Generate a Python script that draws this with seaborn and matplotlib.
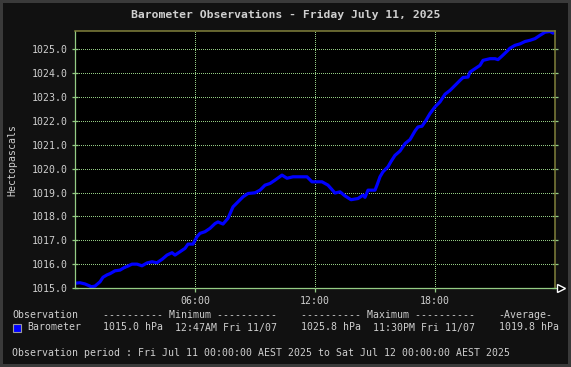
import matplotlib
matplotlib.use("Agg")
import matplotlib.pyplot as plt
import matplotlib.transforms as mtransforms
from matplotlib.patches import Rectangle
import seaborn as sns
import pandas as pd

# ---------------- data ----------------
hours = [0.0, 0.25, 0.5, 0.75, 0.8, 1.0, 1.25, 1.4, 1.6, 1.75, 2.0, 2.25, 2.45, 2.65,
         2.85, 3.1, 3.35, 3.6, 3.85, 4.1, 4.35, 4.6, 4.85, 5.0, 5.25, 5.5, 5.65, 5.9,
         6.1, 6.25, 6.5, 6.75, 7.0, 7.15, 7.4, 7.65, 7.9, 8.15, 8.4, 8.65, 9.0, 9.25,
         9.5, 9.75, 10.0, 10.35, 10.6, 10.9, 11.25, 11.6, 11.85, 12.1, 12.35, 12.65,
         13.0, 13.25, 13.5, 13.8, 14.15, 14.4, 14.5, 14.65, 15.0, 15.1, 15.25, 15.4,
         15.65, 15.8, 16.0, 16.25, 16.5, 16.75, 17.0, 17.15, 17.35, 17.5, 17.75, 18.0,
         18.25, 18.5, 18.75, 19.0, 19.25, 19.4, 19.65, 19.75, 20.0, 20.25, 20.4, 20.75,
         21.0, 21.15, 21.35, 21.6, 21.75, 22.0, 22.25, 22.5, 22.75, 23.0, 23.25, 23.5,
         23.75, 23.9]
pressure = [1015.20, 1015.22, 1015.17, 1015.08, 1015.05, 1015.08, 1015.26, 1015.45,
            1015.55, 1015.60, 1015.72, 1015.75, 1015.85, 1015.92, 1016.00, 1016.00,
            1015.93, 1016.05, 1016.10, 1016.06, 1016.20, 1016.38, 1016.48, 1016.38,
            1016.52, 1016.66, 1016.84, 1016.84, 1017.15, 1017.29, 1017.36, 1017.50,
            1017.70, 1017.77, 1017.68, 1017.92, 1018.40, 1018.61, 1018.82, 1018.96,
            1018.99, 1019.10, 1019.31, 1019.38, 1019.52, 1019.73, 1019.60, 1019.66,
            1019.66, 1019.66, 1019.45, 1019.45, 1019.45, 1019.31, 1018.98, 1019.03,
            1018.86, 1018.70, 1018.75, 1018.89, 1018.80, 1019.10, 1019.10, 1019.31,
            1019.66, 1019.87, 1020.08, 1020.30, 1020.56, 1020.74, 1021.05, 1021.22,
            1021.58, 1021.75, 1021.78, 1021.96, 1022.31, 1022.59, 1022.80, 1023.12,
            1023.28, 1023.49, 1023.70, 1023.82, 1023.84, 1024.05, 1024.19, 1024.33,
            1024.54, 1024.61, 1024.61, 1024.57, 1024.72, 1024.92, 1025.05, 1025.17,
            1025.23, 1025.33, 1025.38, 1025.45, 1025.59, 1025.72, 1025.75, 1025.68]
x_ticks = [6, 12, 18]
x_tick_labels = ["06:00", "12:00", "18:00"]
y_ticks = [1015.0, 1016.0, 1017.0, 1018.0, 1019.0, 1020.0, 1021.0, 1022.0, 1023.0,
           1024.0, 1025.0]

title = "Barometer Observations - Friday July 11, 2025"
ylabel = "Hectopascals"
series_name = "Barometer"
hdr_obs = "Observation"
hdr_min = "---------- Minimum ----------"
hdr_max = "---------- Maximum ----------"
hdr_avg = "-Average-"
min_val, min_time = "1015.0 hPa", "12:47AM Fri 11/07"
max_val, max_time = "1025.8 hPa", "11:30PM Fri 11/07"
avg_val = "1019.8 hPa"
period = ("Observation period : Fri Jul 11 00:00:00 AEST 2025 to "
          "Sat Jul 12 00:00:00 AEST 2025")

df = pd.DataFrame({"hour": hours, "hPa": pressure})

# ---------------- style ----------------
sns.set_theme(style="dark")
plt.rcParams["font.family"] = ["DejaVu Sans Mono", "DejaVu Sans"]

W, H = 571, 367
fig = plt.figure(figsize=(W / 100, H / 100), dpi=100, facecolor="#111111")
fig.patch.set_edgecolor("#3a3a3a")
fig.patch.set_linewidth(3)

L, R, T, B = 75, 555, 31, 288
ax = fig.add_axes([L / W, 1 - B / H, (R - L) / W, (B - T) / H])
ax.set_facecolor("black")

grid_c = "#94cc84"
olive = "#80803c"
txt_c = "#cfcfcf"

sns.lineplot(data=df, x="hour", y="hPa", ax=ax, color="#0000ff", linewidth=2.3,
             legend=False)

ax.set_xlim(0, 24)
ax.set_ylim(1015.0, 1025.77)
ax.set_xticks(x_ticks)
ax.set_xticklabels(x_tick_labels)
ax.set_yticks(y_ticks)
ax.set_yticklabels([f"{v:.1f}" for v in y_ticks])
ax.set_xlabel("")
ax.set_ylabel(ylabel, color=txt_c, fontsize=7.1)
ax.yaxis.label.set_va("center")
ax.yaxis.set_label_coords(-0.1298, 0.5)

ax.grid(True, color=grid_c, linestyle=(0, (1, 2)), linewidth=0.72,
        antialiased=False)
ax.set_axisbelow(True)

for side in ["left", "bottom"]:
    ax.spines[side].set_color(grid_c)
    ax.spines[side].set_linewidth(0.9)
for side in ["top", "right"]:
    ax.spines[side].set_color(olive)
    ax.spines[side].set_linewidth(1.1)

ax.tick_params(axis="y", which="major", left=True, right=True, direction="inout",
               length=4, width=0.9, color=grid_c, labelcolor=txt_c,
               labelsize=7.1, pad=3)
ax.tick_params(axis="x", which="major", bottom=True, direction="out", length=3,
               width=0.9, color=grid_c, labelcolor=txt_c, labelsize=7.1, pad=3)

# arrow at end of x axis
arrow_tr = mtransforms.offset_copy(ax.transAxes, fig=fig, x=6, y=0, units="dots")
ax.plot([1.0], [0.0], marker=">", markersize=6, markerfacecolor="black",
        markeredgecolor="white", markeredgewidth=1.0, transform=arrow_tr,
        clip_on=False)

# title
fig.text(286 / W, 1 - 15 / H, title, ha="center", va="center", color=txt_c,
         fontsize=8.2, fontweight="bold")

# summary text area
fs = 7.1
def ftext(x, y, s):
    fig.text(x / W, 1 - y / H, s, ha="left", va="center", color=txt_c, fontsize=fs)

ftext(12, 315, hdr_obs)
ftext(103, 315, hdr_min)
ftext(301, 315, hdr_max)
ftext(498, 315, hdr_avg)

fig.patches.append(Rectangle((12.5 / W, 1 - 331.5 / H), 8 / W, 8 / H,
                             transform=fig.transFigure, facecolor="#0000ff",
                             edgecolor="#9a9a9a", linewidth=0.8))
ftext(27, 327.5, series_name)
ftext(103, 327.5, min_val)
ftext(175, 327.5, min_time)
ftext(301, 327.5, max_val)
ftext(373, 327.5, max_time)
ftext(499, 327.5, avg_val)

ftext(12, 353.5, period)

fig.savefig("out.png", dpi=100, facecolor=fig.get_facecolor(),
            edgecolor=fig.patch.get_edgecolor())
